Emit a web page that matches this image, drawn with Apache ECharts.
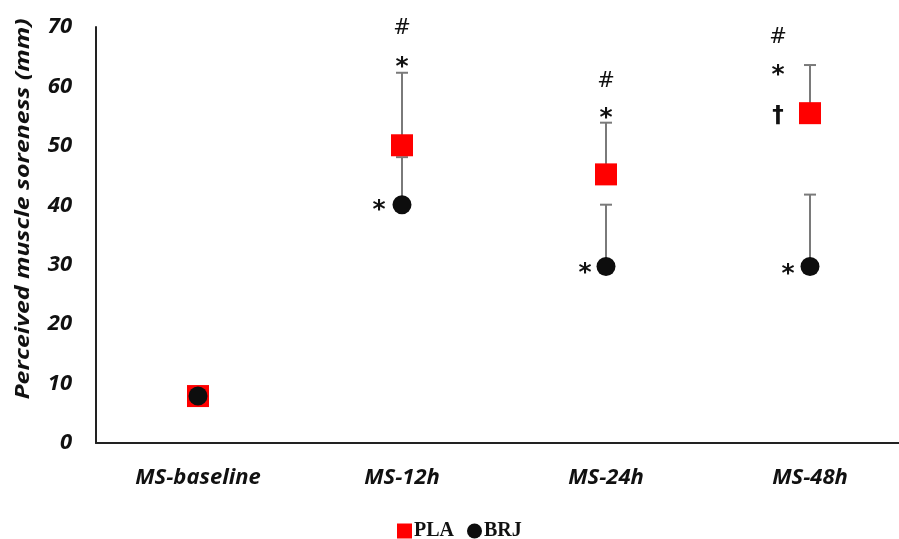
<!DOCTYPE html>
<html>
<head>
<meta charset="utf-8">
<script src="https://cdn.jsdelivr.net/npm/echarts@6/dist/echarts.min.js"></script>
<style>
  html, body { margin: 0; padding: 0; background: #fff; }
  #chart { width: 899px; height: 539px; }
</style>
</head>
<body>
<div id="chart"></div>
<script>
// 数据
const categories = ['MS-baseline', 'MS-12h', 'MS-24h', 'MS-48h']
const plaValues = [7.9, 50.1, 45.2, 55.5]
const plaUpper = [7.9, 62.3, 53.9, 63.6]
const brjValues = [7.9, 40.1, 29.7, 29.7]
const brjUpper = [7.9, 48.1, 40.1, 41.8]
const yTicks = [0, 10, 20, 30, 40, 50, 60, 70]

// 显著性标记: [类别, y值, 文本, 横向偏移]
const marks = [
  [1, 69.7, '#', 0], [1, 64.2, '*', 0], [1, 40.1, '*', -23],
  [2, 60.8, '#', 0], [2, 55.6, '*', 0], [2, 29.6, '*', -21],
  [3, 68.2, '#', -32], [3, 62.8, '*', -32], [3, 55.1, '†', -32], [3, 29.4, '*', -22]
]

const chart = echarts.init(document.getElementById('chart'))

const errData = (vals, up) => vals.map((v, i) => [i, v, up[i]])

const renderErr = (params, api) => {
  const p0 = api.coord([api.value(0), api.value(1)])
  const p1 = api.coord([api.value(0), api.value(2)])
  if (api.value(2) <= api.value(1)) return null
  const st = { stroke: '#7a7a7a', lineWidth: 2 }
  return {
    type: 'group',
    children: [
      { type: 'line', shape: { x1: p0[0], y1: p0[1], x2: p1[0], y2: p1[1] }, style: st },
      { type: 'line', shape: { x1: p1[0] - 6, y1: p1[1], x2: p1[0] + 6, y2: p1[1] }, style: st }
    ]
  }
}

const labelFont = {
  color: '#111',
  fontFamily: 'Open Sans',
  fontStyle: 'italic',
  fontWeight: 'bold'
}

const option = {
  animation: false,
  grid: { left: 96, top: 27, width: 816, height: 416, outerBoundsMode: 'none' },
  xAxis: {
    type: 'category',
    data: categories,
    boundaryGap: true,
    axisLine: { lineStyle: { color: '#222', width: 2 } },
    axisTick: { show: false },
    axisLabel: { ...labelFont, margin: 24, fontSize: 22 }
  },
  yAxis: {
    type: 'value',
    min: yTicks[0],
    max: yTicks[yTicks.length - 1],
    interval: 10,
    axisLine: { show: true, lineStyle: { color: '#222', width: 2 } },
    axisTick: { show: false },
    splitLine: { show: false },
    axisLabel: { ...labelFont, margin: 24, fontSize: 22 }
  },
  graphic: [{
    type: 'text',
    x: 24,
    y: 209,
    rotation: Math.PI / 2,
    scaleX: 1.31,
    style: {
      text: 'Perceived muscle soreness (mm)',
      fill: '#111',
      font: 'italic bold 19px "Open Sans"',
      align: 'center',
      verticalAlign: 'middle'
    }
  }],
  legend: {
    top: 516,
    left: 392,
    itemGap: 13,
    itemWidth: 15,
    itemHeight: 15,
    textStyle: {
      fontFamily: 'Liberation Serif',
      fontWeight: 'bold',
      fontSize: 20,
      color: '#111',
      padding: [0, 0, 0, -3]
    },
    data: [
      { name: 'PLA', icon: 'rect' },
      { name: 'BRJ', icon: 'circle' }
    ]
  },
  series: [
    {
      type: 'custom',
      renderItem: renderErr,
      data: errData(plaValues, plaUpper),
      z: 1
    },
    {
      type: 'custom',
      renderItem: renderErr,
      data: errData(brjValues, brjUpper),
      z: 1
    },
    {
      name: 'PLA',
      type: 'scatter',
      symbol: 'rect',
      symbolSize: 22,
      data: plaValues,
      itemStyle: { color: '#ff0000', opacity: 1 },
      z: 3
    },
    {
      name: 'BRJ',
      type: 'scatter',
      symbol: 'circle',
      symbolSize: 19,
      data: brjValues,
      itemStyle: { color: '#0d0d0d', opacity: 1 },
      z: 4
    },
    {
      type: 'custom',
      z: 5,
      data: marks,
      renderItem: (params, api) => {
        const p = api.coord([api.value(0), api.value(1)])
        const item = marks[params.dataIndex]
        const fonts = { '*': 'bold 25px "DejaVu Sans"', '#': '21px "DejaVu Sans"', '†': 'bold 23px "DejaVu Sans"' }
        return {
          type: 'text',
          x: p[0] + item[3],
          y: p[1] + (item[2] === '*' ? 6 : 0),
          style: {
            text: item[2],
            fill: '#111',
            font: fonts[item[2]],
            align: 'center',
            verticalAlign: 'middle'
          }
        }
      }
    }
  ]
}

chart.setOption(option)
</script>
</body>
</html>
